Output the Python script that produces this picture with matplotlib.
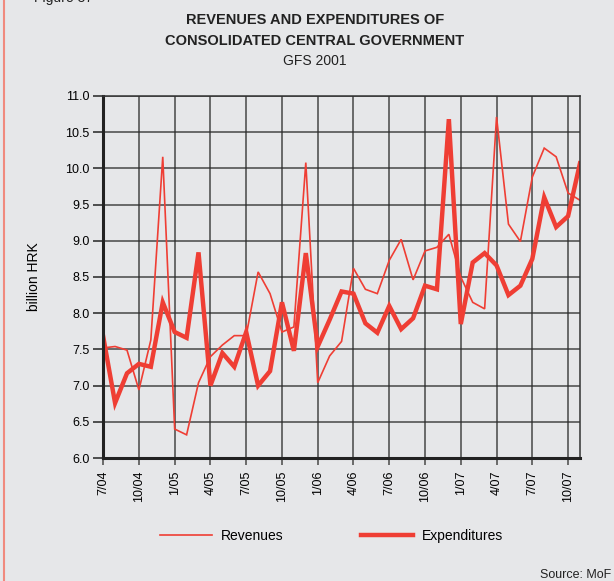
import matplotlib.pyplot as plt
import numpy as np

plt.rcParams['font.family'] = ['Liberation Sans', 'DejaVu Sans']

# monthly data, 7/2004 - 11/2007, billion HRK
months = ['7/04', '8/04', '9/04', '10/04', '11/04', '12/04',
          '1/05', '2/05', '3/05', '4/05', '5/05', '6/05',
          '7/05', '8/05', '9/05', '10/05', '11/05', '12/05',
          '1/06', '2/06', '3/06', '4/06', '5/06', '6/06',
          '7/06', '8/06', '9/06', '10/06', '11/06', '12/06',
          '1/07', '2/07', '3/07', '4/07', '5/07', '6/07',
          '7/07', '8/07', '9/07', '10/07', '11/07']
revenues = [7.52, 7.54, 7.49, 6.94, 7.63, 10.16,
            6.40, 6.32, 7.04, 7.40, 7.56, 7.69,
            7.69, 8.57, 8.27, 7.74, 7.81, 10.08,
            7.04, 7.41, 7.61, 8.62, 8.33, 8.27,
            8.73, 9.02, 8.46, 8.86, 8.91, 9.09,
            8.50, 8.15, 8.06, 10.71, 9.23, 8.99,
            9.88, 10.28, 10.16, 9.66, 9.56]
expenditures = [7.68, 6.76, 7.17, 7.30, 7.26, 8.15,
                7.74, 7.66, 8.84, 7.00, 7.45, 7.26,
                7.74, 7.00, 7.20, 8.15, 7.48, 8.83,
                7.54, 7.91, 8.30, 8.27, 7.86, 7.73,
                8.10, 7.78, 7.93, 8.38, 8.33, 10.68,
                7.85, 8.70, 8.83, 8.66, 8.25, 8.38,
                8.75, 9.60, 9.19, 9.34, 10.07]
tick_labels = months[::3]

bg = '#e6e7e9'
red = '#ef3e34'

fig = plt.figure(figsize=(6.14, 5.81), dpi=100, facecolor=bg)
ax = fig.add_axes([0.168, 0.2117, 0.7766, 0.6231], facecolor=bg)

x = np.arange(len(months))
ax.plot(x, revenues, color=red, lw=1.2, label='Revenues', solid_joinstyle='miter')
ax.plot(x, expenditures, color=red, lw=3.2, label='Expenditures', solid_joinstyle='miter')

ax.set_xlim(0, len(months) - 1)
ax.set_ylim(6.0, 11.0)
ax.set_yticks(np.arange(6.0, 11.01, 0.5))
ax.set_yticklabels([f'{v:.1f}' for v in np.arange(6.0, 11.01, 0.5)], fontsize=9)
ax.set_xticks(x[::3])
ax.set_xticklabels(tick_labels, rotation=90, fontsize=9)
ax.tick_params(axis='y', length=7, width=1.2, color='#333333', pad=3)
ax.tick_params(axis='x', length=5, width=1.2, color='#555555', pad=4)
ax.grid(True, color='#2b2b2b', lw=1.1, alpha=0.85)
ax.set_axisbelow(True)

for side in ['left', 'bottom']:
    ax.spines[side].set_linewidth(2.2)
    ax.spines[side].set_color('#222222')
for side in ['top', 'right']:
    ax.spines[side].set_linewidth(1.1)
    ax.spines[side].set_color('#333333')

ax.set_ylabel('billion HRK', fontsize=10)
ax.yaxis.set_label_coords(-0.13, 0.5)

fig.text(0.513, 0.965, 'REVENUES AND EXPENDITURES OF', ha='center', va='center',
         fontsize=10.5, fontweight='bold', color='#222222')
fig.text(0.513, 0.929, 'CONSOLIDATED CENTRAL GOVERNMENT', ha='center', va='center',
         fontsize=10.5, fontweight='bold', color='#222222')
fig.text(0.513, 0.895, 'GFS 2001', ha='center', va='center', fontsize=10, color='#222222')
fig.text(0.055, 1.003, 'Figure 37', ha='left', va='center', fontsize=10, color='#222222')
fig.text(0.879, 0.011, 'Source: MoF', ha='left', va='center', fontsize=9, color='#222222')

fig.legend(loc='center', bbox_to_anchor=(0.54, 0.077), ncol=2, frameon=False,
           fontsize=10, handlelength=3.75, columnspacing=5.6, handletextpad=0.65)

# pink border on the left edge
fig.add_artist(plt.Line2D([0.006, 0.006], [0, 1], transform=fig.transFigure,
                          color='#f08a7e', lw=1.5))

fig.savefig('out.png', dpi=100, facecolor=bg)
